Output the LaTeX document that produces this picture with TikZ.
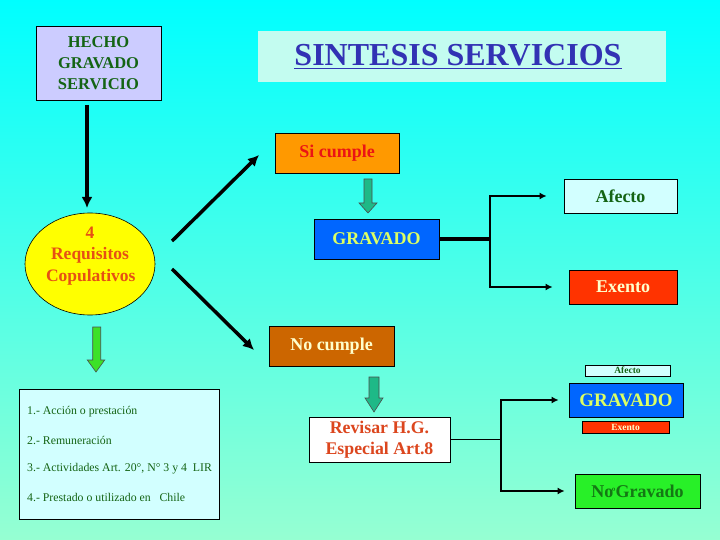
\documentclass[tikz,border=0pt]{standalone}
\usepackage{fontspec}
\setmainfont{Liberation Serif}
\usetikzlibrary{arrows.meta,shapes.geometric}
\definecolor{bgtop}{RGB}{0,255,255}
\definecolor{bgbot}{RGB}{150,255,210}
\definecolor{lav}{RGB}{204,204,255}
\definecolor{dgreen}{RGB}{20,100,20}
\definecolor{titlebg}{RGB}{195,252,240}
\definecolor{titleblue}{RGB}{50,50,180}
\definecolor{ylw}{RGB}{255,255,0}
\definecolor{ored}{RGB}{230,80,20}
\definecolor{sifill}{RGB}{255,153,0}
\definecolor{sitext}{RGB}{235,20,20}
\definecolor{gblue}{RGB}{0,102,255}
\definecolor{gtext}{RGB}{220,255,100}
\definecolor{lcyan}{RGB}{210,255,255}
\definecolor{exfill}{RGB}{255,51,0}
\definecolor{cream}{RGB}{255,255,204}
\definecolor{nofill}{RGB}{204,102,0}
\definecolor{revtext}{RGB}{220,70,30}
\definecolor{ngfill}{RGB}{40,240,40}
\definecolor{ngtext}{RGB}{20,120,20}
\definecolor{teal1}{RGB}{30,185,135}
\definecolor{bgreen}{RGB}{60,225,40}
\tikzset{
  box/.style={draw=black, line width=0.8pt, inner sep=0pt, align=center},
  bold18/.style={font=\bfseries\fontsize{18}{21.5}\selectfont},
  bigarr/.style={line width=3.5pt, -{Latex[length=11pt,width=11pt]}},
  midarr/.style={line width=2pt, -{Latex[length=7pt,width=7pt]}},
  listtxt/.style={anchor=west, text=dgreen, inner sep=0pt, font=\fontsize{11.8}{14}\selectfont},
  blk/.style={draw=black!70, line width=0.6pt}
}
\begin{document}
\begin{tikzpicture}[x=1pt,y=-1pt]
\shade[top color=bgtop,bottom color=bgbot] (0,0) rectangle (720,540);
\useasboundingbox (0,0) rectangle (720,540);

% top
\node[box, fill=lav, minimum width=125pt, minimum height=74pt, text=dgreen,
  font=\bfseries\fontsize{16.5}{21}\selectfont] (hecho) at (98.5,63) {HECHO\\GRAVADO\\SERVICIO};
\node[fill=titlebg, inner sep=0pt, minimum width=408pt, minimum height=51pt, text=titleblue,
  font=\bfseries\fontsize{32}{34}\selectfont] (title) at (462,56.5) {\kern-8pt\underline{SINTESIS SERVICIOS}};

% ellipse
\node[ellipse, draw=black, line width=0.6pt, fill=ylw, inner sep=0pt, minimum width=130pt, minimum height=102pt,
  text=ored, font=\bfseries\fontsize{17.5}{21.5}\selectfont] (req) at (90,264)
  {\raisebox{8pt}[\height][\depth]{\parbox{88pt}{\centering 4\\Requisitos\\Copulativos}}};

\coordinate (v1) at (87,105);
\coordinate (v2) at (87,208);
\draw[bigarr] (v1) -- (v2);

% si cumple branch
\node[box, fill=sifill, minimum width=124pt, minimum height=40pt, text=sitext, bold18] (si) at (337,153) {Si cumple};
\node[box, fill=gblue, minimum width=125pt, minimum height=40pt, text=gtext, bold18] (grav1) at (376.5,239) {GRAVADO};
\node[box, fill=lcyan, minimum width=113pt, minimum height=34pt, text=dgreen, bold18] (afecto) at (620.5,196) {Afecto};
\node[box, fill=exfill, minimum width=108pt, minimum height=34pt, text=cream, bold18] (exento) at (623,287) {Exento};

\coordinate (d1s) at (172,241);
\coordinate (d1e) at (259,155);
\draw[bigarr] (d1s) -- (d1e);
\coordinate (d2s) at (172,269);
\coordinate (d2e) at (254,350);
\draw[bigarr] (d2s) -- (d2e);

\filldraw[blk, fill=teal1] (364,179) -- (372,179) -- (372,203) -- (377,203) -- (368,213) -- (359,203) -- (364,203) -- cycle;

\coordinate (j1) at (490,239);
\draw[line width=3.5pt] (grav1.east) -- (j1);
\draw[midarr, shorten >=17pt] (j1) |- (afecto.west);
\draw[midarr, shorten >=16pt] (j1) |- (exento.west);

% no cumple branch
\node[box, fill=nofill, minimum width=125pt, minimum height=40pt, text=cream, bold18] (no) at (331.5,346) {No cumple};
\filldraw[blk, fill=teal1] (369,377) -- (379,377) -- (379,398) -- (383,398) -- (374,412) -- (365,398) -- (369,398) -- cycle;
\node[box, fill=white, minimum width=141pt, minimum height=45pt, text=revtext,
  font=\bfseries\fontsize{17.8}{21}\selectfont] (rev) at (379.5,439.5) {Revisar H.G.\\Especial Art.8};

\node[box, fill=lcyan, minimum width=85pt, minimum height=11pt, text=dgreen,
  font=\bfseries\fontsize{9.5}{9.5}\selectfont] (afecto2) at (627.5,370.5) {Afecto};
\node[box, fill=gblue, minimum width=114pt, minimum height=34pt, text=gtext,
  font=\bfseries\fontsize{19}{20}\selectfont] (grav2) at (626,400) {GRAVADO};
\node[box, fill=exfill, minimum width=87pt, minimum height=12pt, text=cream,
  font=\bfseries\fontsize{9.5}{9.5}\selectfont] (exento2) at (625.5,427) {Exento};
\node[box, fill=ngfill, minimum width=125pt, minimum height=34pt, text=ngtext,
  font=\bfseries\fontsize{18}{20}\selectfont] (nograv) at (637.5,491) {No\kern-1.5pt\raisebox{2pt}{\fontsize{11}{11}\selectfont º}Gravado};

\coordinate (j2) at (501,439.5);
\draw[line width=1.2pt] (rev.east) -- (j2);
\draw[midarr, shorten >=10pt] (j2) |- (grav2.west);
\draw[midarr, shorten >=10pt] (j2) |- (nograv.west);

% requirements list
\filldraw[blk, fill=bgreen] (92.7,327) -- (100.7,327) -- (100.7,360) -- (104.7,360) -- (96,372) -- (87.3,360) -- (92.7,360) -- cycle;
\node[box, fill=lcyan, minimum width=200pt, minimum height=130pt] (list) at (119,454) {};
\node[listtxt] (l1) at (27,412) {1.- Acción o prestación};
\node[listtxt] (l2) at (27,440) {2.- Remuneración};
\node[listtxt] (l3) at (27,469) {3.- Actividades Art. 20°, N° 3 y 4\ \ LIR};
\node[listtxt] (l4) at (27,497) {4.- Prestado o utilizado en\ \ \ Chile};
\end{tikzpicture}
\end{document}
